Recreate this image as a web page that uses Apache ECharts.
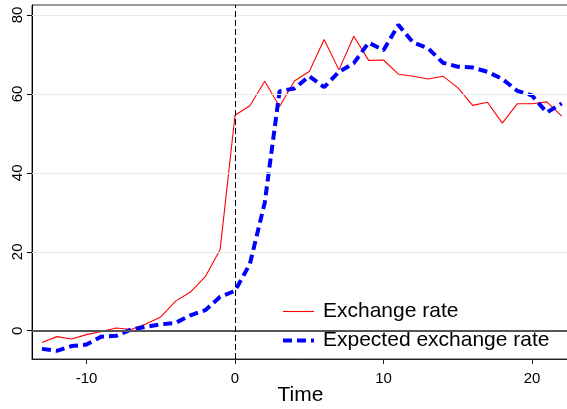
<!DOCTYPE html>
<html>
<head>
<meta charset="utf-8">
<script src="https://cdn.jsdelivr.net/npm/echarts@6/dist/echarts.min.js"></script>
<style>
html,body{margin:0;padding:0;background:#fff;}
#chart{width:567px;height:409px;}
</style>
</head>
<body>
<div id="chart"></div>
<script>
const times = [-13,-12,-11,-10,-9,-8,-7,-6,-5,-4,-3,-2,-1,0,1,2,3,4,5,6,7,8,9,10,11,12,13,14,15,16,17,18,19,20,21,22];
const exchangeRate = [-3.0,-1.5,-2.1,-1.0,-0.2,0.7,0.3,1.7,3.5,7.5,9.8,13.7,20.6,54.6,57.0,63.2,56.8,63.3,65.7,73.8,66.1,74.6,68.5,68.6,65.0,64.5,63.8,64.5,61.6,57.1,57.9,52.6,57.5,57.5,58.0,54.4];
const expectedRate = [-4.6,-5.1,-3.9,-3.5,-1.5,-1.3,0.3,1.0,1.6,2.0,3.9,5.2,8.6,10.1,16.9,32.4,60.7,61.4,64.5,61.7,65.6,67.8,73.0,71.1,77.5,73.0,71.6,67.9,66.9,66.7,65.6,63.8,60.8,59.6,55.3,57.6];
const xTicks = [-10,0,10,20];
const yTicks = [0,20,40,60,80];
const gridTicks = [20,40,60,80];
const seriesNames = ['Exchange rate','Expected exchange rate'];

const font = 'Liberation Sans, Helvetica, Arial, sans-serif';
const chart = echarts.init(document.getElementById('chart'));
const pair = arr => times.map((t,i)=>[t,arr[i]]);

chart.setOption({
  animation:false,
  backgroundColor:'#fff',
  grid:{left:32,right:-2,top:5,bottom:50,show:true,borderColor:'#333',borderWidth:1,outerBoundsMode:'none',containLabel:false},
  xAxis:{
    type:'value',min:-13.67,max:22.49,
    name:'Time',nameLocation:'middle',nameGap:26,nameMoveOverlap:false,
    nameTextStyle:{fontFamily:font,fontSize:21,color:'#000'},
    axisLine:{show:true,onZero:false,lineStyle:{color:'#222',width:1}},
    axisTick:{show:true,length:5,lineStyle:{color:'#222'},customValues:xTicks},
    axisLabel:{fontFamily:font,fontSize:15,color:'#000',margin:12,customValues:xTicks},
    splitLine:{show:false}
  },
  yAxis:{
    type:'value',min:-7.17,max:82.54,
    axisLine:{show:true,onZero:false,lineStyle:{color:'#000',width:1}},
    axisTick:{show:true,length:5,lineStyle:{color:'#000'},customValues:yTicks},
    axisLabel:{fontFamily:font,fontSize:15,color:'#000',rotate:90,margin:7,customValues:yTicks},
    splitLine:{show:false}
  },
  legend:{
    orient:'vertical',left:281,top:301,padding:0,itemWidth:31,itemHeight:12,itemGap:8,
    data:seriesNames,
    itemStyle:{opacity:0},
    lineStyle:{width:'inherit',type:'inherit'},
    textStyle:{fontFamily:font,fontSize:21,color:'#000',padding:[0,0,0,4]},
    selectedMode:false
  },
  series:[
    {
      type:'line',name:'helper',data:[],z:1,silent:true,
      markLine:{
        silent:true,symbol:'none',label:{show:false},animation:false,
        data:[
          ...gridTicks.map(v=>({yAxis:v,lineStyle:{color:'#e4eded',width:1,type:'solid'}})),
          {yAxis:0,lineStyle:{color:'#555',width:2,type:'solid'}},
          {xAxis:0,lineStyle:{color:'#000',width:1,type:[6,3]}}
        ]
      }
    },
    {
      type:'line',name:seriesNames[0],data:pair(exchangeRate),symbol:'none',z:3,
      lineStyle:{color:'#ff0000',width:1.1},itemStyle:{color:'#ff0000'}
    },
    {
      type:'line',name:seriesNames[1],data:pair(expectedRate),symbol:'none',z:4,
      lineStyle:{color:'#0000ff',width:4,type:[9,5],cap:'butt'},itemStyle:{color:'#0000ff'}
    }
  ]
});
</script>
</body>
</html>
